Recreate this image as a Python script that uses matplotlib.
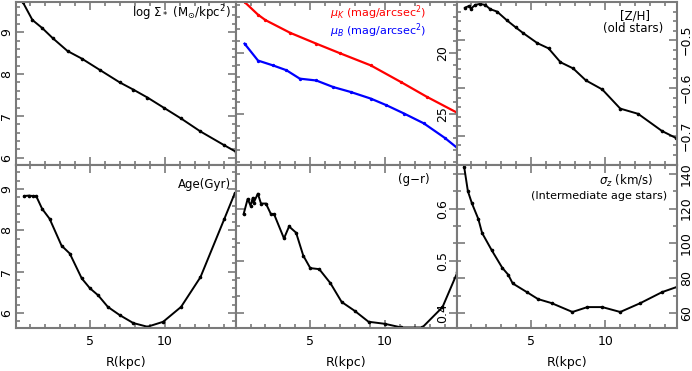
import matplotlib
matplotlib.use("Agg")
import matplotlib.pyplot as plt
from matplotlib.ticker import MultipleLocator, FixedLocator

# ---- data ----
R_mass = [0.45, 0.5, 1.15, 1.8, 2.5, 3.5, 4.45, 5.7, 7.0, 7.9, 8.85, 9.93, 11.1, 12.4, 14.0, 14.75]
logSigma = [9.80, 9.72, 9.29, 9.10, 8.86, 8.55, 8.37, 8.09, 7.80, 7.63, 7.44, 7.20, 6.94, 6.63, 6.30, 6.15]

R_muK = [0.6, 1.5, 2.0, 3.65, 5.4, 7.0, 9.05, 11.1, 12.8, 14.8]
muK = [15.75, 16.8, 17.25, 18.3, 19.2, 20.0, 21.0, 22.4, 23.6, 24.9]
R_muB = [0.6, 1.5, 2.5, 3.4, 4.3, 5.4, 6.55, 7.7, 9.05, 10.1, 11.3, 12.6, 14.0, 14.8]
muB = [19.2, 20.6, 21.0, 21.4, 22.1, 22.25, 22.8, 23.2, 23.75, 24.3, 25.0, 25.8, 27.0, 27.8]

R_ZH = [0.6, 0.9, 1.0, 1.3, 1.6, 1.95, 2.3, 2.75, 3.4, 4.0, 4.5, 5.45, 6.2, 7.0, 7.85, 8.7, 9.8, 11.0, 12.2, 13.8, 14.7]
ZH = [-0.432, -0.428, -0.434, -0.426, -0.424, -0.426, -0.435, -0.44, -0.458, -0.473, -0.485, -0.506,
      -0.517, -0.546, -0.559, -0.584, -0.603, -0.643, -0.654, -0.69, -0.704]

R_age = [0.6, 0.9, 1.2, 1.4, 1.8, 2.3, 3.1, 3.65, 4.45, 5.0, 5.55, 6.2, 7.0, 7.9, 8.85, 9.9, 11.1, 12.4, 14.0, 14.7]
age = [8.83, 8.84, 8.83, 8.83, 8.52, 8.28, 7.63, 7.44, 6.84, 6.6, 6.43, 6.15, 5.95, 5.76, 5.67, 5.79, 6.15, 6.87, 8.28, 8.9]

R_gr = [0.54, 0.81, 1.0, 1.15, 1.2, 1.49, 1.7, 2.03, 2.36, 2.57, 3.24, 3.58, 4.05, 4.53, 5.0, 5.6, 6.35,
        7.1, 7.97, 8.9, 10.0, 11.1, 12.5, 13.85, 14.85]
gr = [0.590, 0.619, 0.606, 0.621, 0.611, 0.629, 0.610, 0.610, 0.590, 0.590, 0.543, 0.566, 0.554, 0.510,
      0.486, 0.484, 0.457, 0.421, 0.404, 0.383, 0.379, 0.372, 0.372, 0.411, 0.478]

R_sig = [0.55, 0.8, 1.07, 1.5, 1.75, 2.4, 3.1, 3.5, 3.8, 4.75, 5.5, 6.4, 7.8, 8.8, 9.8, 11.0, 12.35, 13.8, 14.8]
sigz = [144, 130, 123, 114, 106, 96, 86, 82, 77, 72, 68, 65.7, 60.6, 63.4, 63.4, 60.6, 65.7, 72, 75]

# ---- figure ----
W, H = 692, 371
fig = plt.figure(figsize=(W / 100, H / 100), dpi=100)
gs = fig.add_gridspec(2, 3, left=16 / W, right=677 / W, top=1 - 2 / H, bottom=1 - 328 / H,
                      hspace=0, wspace=0)
axes = [[fig.add_subplot(gs[r, c]) for c in range(3)] for r in range(2)]

frame_col = "#7a7a7a"
fs = 9
xlim = (0.05, 14.8)


def style(ax, side, bottom_labels, ymaj, ymin, pad):
    ax.set_xlim(*xlim)
    for s in ax.spines.values():
        s.set_color(frame_col)
        s.set_linewidth(1.5)
    ax.xaxis.set_major_locator(FixedLocator([5, 10]))
    ax.xaxis.set_minor_locator(MultipleLocator(1))
    ax.yaxis.set_major_locator(MultipleLocator(ymaj))
    ax.yaxis.set_minor_locator(MultipleLocator(ymin))
    ax.tick_params(which="both", direction="in", top=True, bottom=True, left=True, right=True,
                   color=frame_col, width=1.2, labelsize=fs)
    ax.tick_params(which="major", length=6)
    ax.tick_params(which="minor", length=3)
    ax.tick_params(axis="x", labelbottom=bottom_labels, pad=5)
    if side == "left":
        ax.tick_params(axis="y", labelleft=True, labelright=False, pad=pad)
    else:
        ax.tick_params(axis="y", labelleft=False, labelright=True, pad=pad)
    for lab in ax.get_yticklabels():
        lab.set_rotation(90)
        lab.set_va("center")


line_kw = dict(color="black", lw=1.4, marker="o", ms=1.6)

# top-left
ax = axes[0][0]
ax.plot(R_mass, logSigma, **line_kw)
ax.set_ylim(5.83, 9.72)
style(ax, "left", False, 1, 0.2, 2)
ax.text(0.975, 0.93, r"log $\Sigma_*$ (M$_{\odot}$/kpc$^2$)", transform=ax.transAxes,
        ha="right", va="center", fontsize=8.5)

# top-middle
ax = axes[0][1]
ax.plot(R_muK, muK, color="red", lw=1.6, marker="o", ms=1.4)
ax.plot(R_muB, muB, color="blue", lw=1.6, marker="o", ms=1.4)
ax.set_ylim(29.25, 15.75)
style(ax, "right", False, 5, 1, -15)
ax.text(0.86, 0.935, r"$\mu_K$ (mag/arcsec$^2$)", transform=ax.transAxes, ha="right",
        va="center", fontsize=8, color="red")
ax.text(0.86, 0.825, r"$\mu_B$ (mag/arcsec$^2$)", transform=ax.transAxes, ha="right",
        va="center", fontsize=8, color="blue")

# top-right
ax = axes[0][2]
ax.plot(R_ZH, ZH, **line_kw)
ax.set_ylim(-0.761, -0.42)
style(ax, "right", False, 0.1, 0.02, 2)
ax.text(0.81, 0.915, "[Z/H]", transform=ax.transAxes, ha="center", va="center", fontsize=8.5)
ax.text(0.80, 0.84, "(old stars)", transform=ax.transAxes, ha="center", va="center", fontsize=8.5)

# bottom-left
ax = axes[1][0]
ax.plot(R_age, age, **line_kw)
ax.set_ylim(5.64, 9.58)
style(ax, "left", True, 1, 0.2, 2)
ax.text(0.975, 0.88, "Age(Gyr)", transform=ax.transAxes, ha="right", va="center", fontsize=8.5)
ax.set_xlabel("R(kpc)", fontsize=fs, labelpad=6)

# bottom-middle
ax = axes[1][1]
ax.plot(R_gr, gr, **line_kw)
ax.set_ylim(0.371, 0.684)
style(ax, "right", True, 0.1, 0.1 / 3, -15)
ax.text(0.805, 0.91, "(g\u2212r)", transform=ax.transAxes, ha="center", va="center", fontsize=8.5)
ax.set_xlabel("R(kpc)", fontsize=fs, labelpad=6)

# bottom-right
ax = axes[1][2]
ax.plot(R_sig, sigz, **line_kw)
ax.set_ylim(51.4, 145)
style(ax, "right", True, 20, 10, 2)
ax.text(0.77, 0.90, r"$\sigma_z$ (km/s)", transform=ax.transAxes, ha="center", va="center", fontsize=8.5)
ax.text(0.955, 0.81, "(Intermediate age stars)", transform=ax.transAxes, ha="right", va="center",
        fontsize=8)
ax.set_xlabel("R(kpc)", fontsize=fs, labelpad=6)

fig.savefig("out.png", dpi=100)
